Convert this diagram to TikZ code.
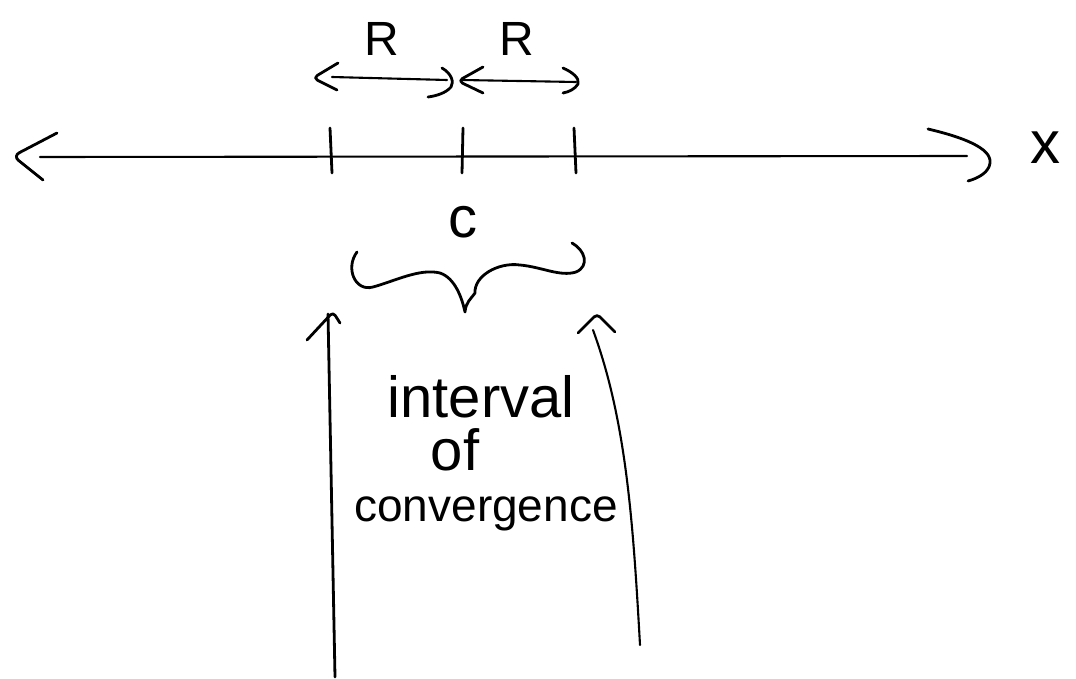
\documentclass[tikz,border=0pt]{standalone}
\usepackage{fontspec}
\setmainfont{Liberation Sans}
\begin{document}
\begin{tikzpicture}[x=1pt,y=-1pt,
  pen/.style={line width=2.8pt,line cap=round,line join=round,black},
  thin pen/.style={pen,line width=2.1pt},
  lbl/.style={inner sep=0pt,anchor=base}]
\useasboundingbox (0,0) rectangle (1076,679);

% number line with hand-drawn heads
\coordinate (axL) at (40,157);
\coordinate (axR) at (967,156);
\draw[thin pen] (axL) -- (axR);
\draw[pen,rounded corners=7pt] (57,133) -- (13,156) -- (43,180);
\draw[pen] (928,129) .. controls (962,137) and (992,148) .. (990,163)
           .. controls (989,172) and (979,178) .. (968,181);
\node[lbl,anchor=base west,font=\fontsize{60}{60}\selectfont] (xlab) at (1030,164) {x};

% tick marks at c-R, c, c+R
\coordinate (t1) at (330,128); \coordinate (b1) at (332,173);
\coordinate (t2) at (463,128); \coordinate (b2) at (462,173);
\coordinate (t3) at (574,128); \coordinate (b3) at (576,173);
\draw[pen] (t1) -- (b1);
\draw[pen] (t2) -- (b2);
\draw[pen] (t3) -- (b3);

% radius arrows
\coordinate (r1a) at (332,77); \coordinate (r1b) at (447,80);
\coordinate (r2a) at (462,80); \coordinate (r2b) at (576,82);
\draw[thin pen] (r1a) -- (r1b);
\draw[thin pen] (r2a) -- (r2b);
\draw[pen,rounded corners=5pt] (338,63) -- (313,78) -- (337,90);
\draw[pen] (442,68) .. controls (452,74) and (454,82) .. (451,87) .. controls (446,93) and (436,96) .. (428,97);
\draw[pen,rounded corners=5pt] (483,67) -- (458,81) -- (483,93);
\draw[pen] (563,68) .. controls (572,72) and (580,78) .. (578,84) .. controls (575,89) and (569,92) .. (563,93);
\node[lbl,font=\fontsize{48}{48}\selectfont] (R1) at (382,56) {R};
\node[lbl,font=\fontsize{48}{48}\selectfont] (R2) at (517,56) {R};

% centre label and brace
\node[lbl,font=\fontsize{58}{58}\selectfont] (c) at (463,237) {c};
\coordinate (brL) at (357,252);
\coordinate (brM) at (465,312);
\coordinate (brR) at (572,243);
\draw[pen] (brL) .. controls (345,268) and (355,292) .. (373,287)
  .. controls (395,281) and (420,268) .. (440,273)
  .. controls (455,278) and (462,298) .. (brM)
  .. controls (466,302) and (470,300) .. (475,293)
  .. controls (474,276) and (498,262) .. (520,265)
  .. controls (542,267) and (560,277) .. (576,272)
  .. controls (590,266) and (585,250) .. (brR);

% arrows pointing up at the interval ends
\coordinate (aLb) at (335,677); \coordinate (aLt) at (328,314);
\draw[pen] (aLb) -- (aLt);
\draw[pen,rounded corners=4pt] (307,340) -- (333,312) -- (340,323);
\coordinate (aRb) at (640,645); \coordinate (aRt) at (593,330);
\draw[thin pen] (aRb) .. controls (633,520) and (626,420) .. (aRt);
\draw[pen,rounded corners=4pt] (578,333) -- (597,314) -- (615,332);

% caption between the arrows
\node[lbl,font=\fontsize{58}{58}\selectfont] (cap1) at (481,417) {interval};
\node[lbl,font=\fontsize{58}{58}\selectfont] (cap2) at (455,470) {of};
\node[lbl,font=\fontsize{46}{46}\selectfont] (cap3) at (486,521) {convergence};
\end{tikzpicture}
\end{document}
